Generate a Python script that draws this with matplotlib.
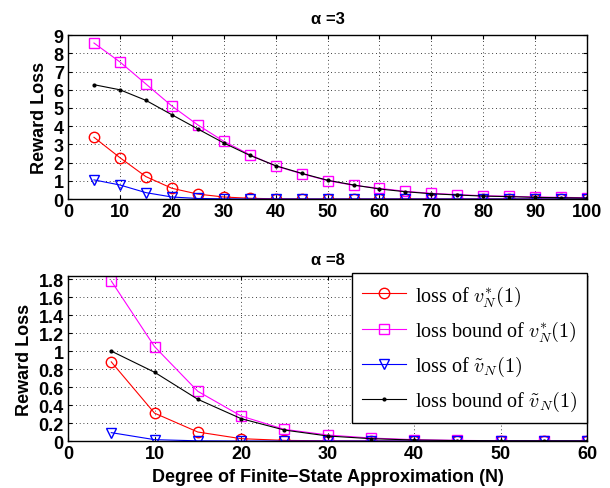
import matplotlib
matplotlib.use("Agg")
import matplotlib.pyplot as plt
import numpy as np

# ---------------- data: alpha = 3 ----------------
N3 = [5, 10, 15, 20, 25, 30, 35, 40, 45, 50, 55, 60, 65, 70, 75, 80, 85, 90, 95, 100]
loss_v3 = [3.39, 2.27, 1.23, 0.59, 0.27, 0.11, 0.04, 0.01, 0, 0, 0, 0, 0, 0, 0, 0, 0, 0, 0, 0]
bound_v3 = [8.57, 7.53, 6.32, 5.11, 4.07, 3.17, 2.44, 1.81, 1.39, 1.01,
            0.75, 0.59, 0.42, 0.31, 0.24, 0.18, 0.15, 0.11, 0.09, 0.07]
loss_vt3 = [1.05, 0.77, 0.35, 0.11, 0.03, 0.01, 0, 0, 0, 0, 0, 0, 0, 0, 0, 0, 0, 0, 0, 0]
bound_vt3 = [6.28, 6.0, 5.42, 4.63, 3.85, 3.08, 2.4, 1.83, 1.41, 1.03,
             0.77, 0.55, 0.40, 0.29, 0.22, 0.16, 0.13, 0.09, 0.07, 0.05]

# ---------------- data: alpha = 8 ----------------
N8 = [5, 10, 15, 20, 25, 30, 35, 40, 45, 50, 55, 60]
loss_v8 = [0.88, 0.31, 0.10, 0.026, 0.007, 0.002, 0, 0, 0, 0, 0, 0]
bound_v8 = [1.78, 1.05, 0.553, 0.278, 0.13, 0.067, 0.033, 0.015, 0.007, 0.003, 0.001, 0]
loss_vt8 = [0.093, 0.015, 0.002, 0, 0, 0, 0, 0, 0, 0, 0, 0]
bound_vt8 = [1.0, 0.765, 0.464, 0.249, 0.122, 0.056, 0.026, 0.011, 0.005, 0.002, 0.001, 0]

labels = [r"loss of $v_N^{*}(1)$", r"loss bound of $v_N^{*}(1)$",
          r"loss of $\tilde{v}_N(1)$", r"loss bound of $\tilde{v}_N(1)$"]

plt.rcParams["font.family"] = ["Liberation Sans", "DejaVu Sans"]
plt.rcParams["mathtext.fontset"] = "cm"

fig = plt.figure(figsize=(6.1, 4.89), dpi=100)
ax1 = fig.add_axes([0.1115, 0.591, 0.851, 0.335])
ax2 = fig.add_axes([0.1115, 0.0961, 0.851, 0.337])


def draw(ax, x, lv, bv, lt, bt):
    ax.plot(x, lv, color="red", marker="o", ms=7.5, mfc="none", lw=0.8, label=labels[0])
    ax.plot(x, bv, color="magenta", marker="s", ms=7.5, mfc="none", lw=0.8, label=labels[1])
    ax.plot(x, lt, color="blue", marker="v", ms=7.5, mfc="none", lw=0.8, label=labels[2])
    ax.plot(x, bt, color="black", marker=".", ms=4, lw=0.8, label=labels[3])
    ax.grid(True, linestyle=(0, (1, 3.5)), color="black", linewidth=0.6)
    ax.tick_params(direction="in", top=True, right=True, length=3, labelsize=13, pad=3)
    for s in ax.spines.values():
        s.set_linewidth(1.0)
    ax.set_ylabel("Reward Loss", fontsize=13, fontweight="bold", labelpad=4)


def bold_ticks(ax):
    for t in ax.get_xticklabels() + ax.get_yticklabels():
        t.set_fontweight("bold")


draw(ax1, N3, loss_v3, bound_v3, loss_vt3, bound_vt3)
ax1.set_xlim(0, 100)
ax1.set_ylim(0, 9)
ax1.set_xticks(np.arange(0, 101, 10))
ax1.set_yticks(np.arange(0, 10, 1))
bold_ticks(ax1)
ax1.set_title("\u03b1 =3", fontsize=12, fontweight="bold", pad=9)

draw(ax2, N8, loss_v8, bound_v8, loss_vt8, bound_vt8)
ax2.set_xlim(0, 60)
ax2.set_ylim(0, 1.833)
ax2.set_xticks(np.arange(0, 61, 10))
ax2.set_yticks([0, 0.2, 0.4, 0.6, 0.8, 1, 1.2, 1.4, 1.6, 1.8])
ax2.set_yticklabels(["0", "0.2", "0.4", "0.6", "0.8", "1", "1.2", "1.4", "1.6", "1.8"])
bold_ticks(ax2)
ax2.set_title("\u03b1 =8", fontsize=12, fontweight="bold", pad=9)
ax2.set_xlabel("Degree of Finite\u2212State Approximation (N)", fontsize=13,
               fontweight="bold", labelpad=4.5)

leg = ax2.legend(loc="upper right", bbox_to_anchor=(1.0, 1.018), borderaxespad=0,
                 prop={"family": "Liberation Serif", "size": 14.5}, fancybox=False,
                 framealpha=1, edgecolor="black", handlelength=2.2, labelspacing=0.55,
                 borderpad=0.5, handletextpad=0.4)
leg.get_frame().set_linewidth(1.0)

fig.savefig("out.png", dpi=100)
